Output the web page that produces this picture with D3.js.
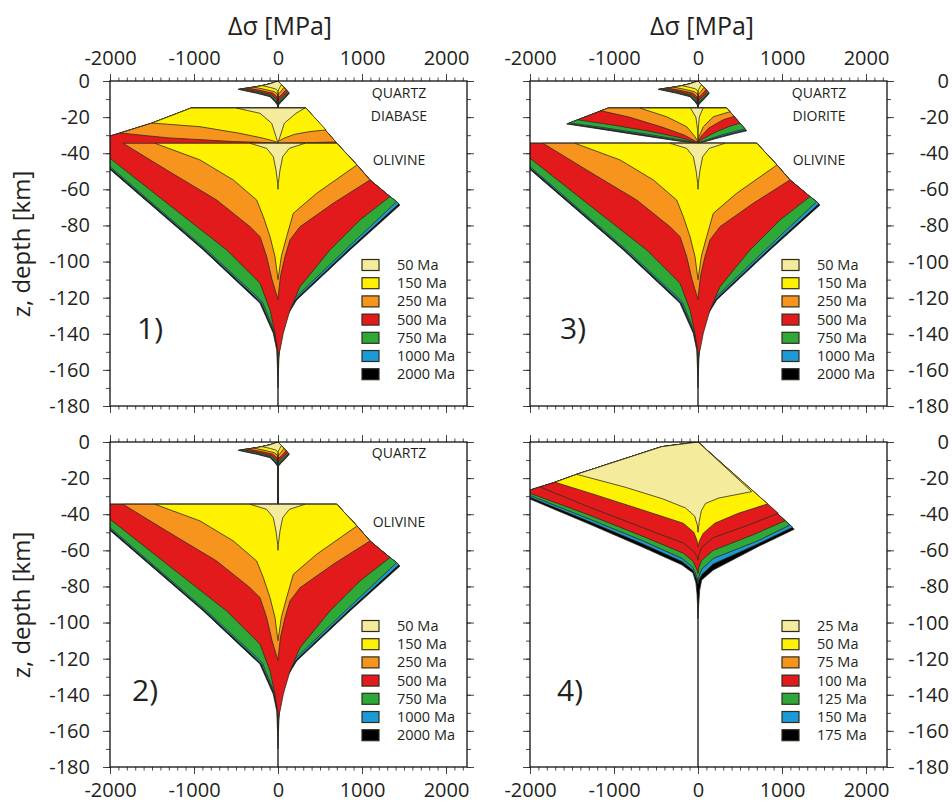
<!DOCTYPE html>
<html><head><meta charset="utf-8">
<script src="https://cdn.jsdelivr.net/npm/d3@7"></script>
<style>
body{margin:0;background:#fff}
text{font-family:"Open Sans",sans-serif;fill:#231f20}
</style>
</head><body>
<svg id="c" width="952" height="802"></svg>
<script>
// ---------------- DATA ----------------
const xMajor = [-2000,-1000,0,1000,2000];
const xMinor = d3.range(-2000,2300,100);
const yMajor = [0,-20,-40,-60,-80,-100,-120,-140,-160,-180];
const yMinor = d3.range(0,-190,-10);
const continentalAges = ["50 Ma","150 Ma","250 Ma","500 Ma","750 Ma","1000 Ma","2000 Ma"];
const oceanicAges = ["25 Ma","50 Ma","75 Ma","100 Ma","125 Ma","150 Ma","175 Ma"];
const ageColors = ["#f4ec9c","#fff200","#f7941d","#e31a1c","#2ea837","#1c9ad6","#000000"];
const oceanicFill = ["#f4ec9c","#fff200","#e31a1c","#e31a1c","#2ea837","#1c9ad6","#000000"];
const materialLabelsP1 = ["QUARTZ","DIABASE","OLIVINE"];
const materialLabelsP2 = ["QUARTZ","OLIVINE"];
const materialLabelsP3 = ["QUARTZ","DIORITE","OLIVINE"];
const materialDepths3 = [-6.5,-19.5,-44];
const materialDepths2 = [-6,-44.5];

// envelopes: [delta sigma MPa, depth km], index by age (young -> old)
const quartzComp = [
 [[0,0],[-100,-1.6],[-190,-2.55],[-90,-3.6],[-30,-4.4],[-8,-5.2],[0,-6]],
 [[0,0],[-100,-1.6],[-214,-2.8],[-290,-3.35],[-140,-4.8],[-45,-5.9],[-12,-7],[0,-8]],
 [[0,0],[-100,-1.6],[-214,-2.8],[-360,-3.85],[-180,-5.5],[-60,-6.8],[-20,-8.4],[0,-9.8]],
 [[0,0],[-100,-1.6],[-214,-2.8],[-350,-3.8],[-420,-4.2],[-215,-6.1],[-75,-7.7],[-25,-9.8],[0,-11.5]],
 [[0,0],[-100,-1.6],[-214,-2.8],[-350,-3.8],[-450,-4.4],[-235,-6.4],[-85,-8.1],[-30,-10.5],[0,-12.6]],
 [[0,0],[-100,-1.6],[-214,-2.8],[-350,-3.8],[-465,-4.5],[-245,-6.6],[-90,-8.4],[-33,-11],[0,-13.2]],
 [[0,0],[-100,-1.6],[-214,-2.8],[-350,-3.8],[-476,-4.6],[-254,-6.8],[-95,-8.7],[-36,-11.5],[0,-13.8]]
];
const quartzTens = [
 [[0,0],[40,-2.0],[20,-3.7],[5,-5],[0,-6]],
 [[0,0],[44,-2.2],[70,-3.5],[38,-5.6],[10,-7.1],[0,-8]],
 [[0,0],[44,-2.2],[95,-4.8],[52,-7.2],[13,-8.8],[0,-9.8]],
 [[0,0],[44,-2.2],[115,-5.8],[65,-8.4],[17,-10.4],[0,-11.5]],
 [[0,0],[44,-2.2],[125,-6.3],[73,-9],[20,-11.3],[0,-12.6]],
 [[0,0],[44,-2.2],[130,-6.55],[78,-9.3],[22,-11.8],[0,-13.2]],
 [[0,0],[44,-2.2],[135,-6.8],[83,-9.6],[24,-12.3],[0,-13.8]]
];
const diabaseComp = [
 [[-492,-15],[-214,-17.9],[-75,-23.4],[-24,-30.8],[-4,-33.6],[0,-34.5]],
 [[-1036,-15],[-1500,-23.3],[-929,-25.3],[-452,-29],[-175,-31.7],[-56,-33.2],[0,-34]],
 [[-1036,-15],[-1500,-23.3],[-1880,-28.8],[-1300,-31.5],[-540,-33.5],[0,-34.3]],
 [[-1036,-15],[-1500,-23.3],[-1880,-28.8],[-2000,-30.5],[-2270,-34.5]],
 [[-1036,-15],[-1500,-23.3],[-1880,-28.8],[-2000,-30.5],[-2270,-34.5]],
 [[-1036,-15],[-1500,-23.3],[-1880,-28.8],[-2000,-30.5],[-2270,-34.5]],
 [[-1036,-15],[-1500,-23.3],[-1880,-28.8],[-2000,-30.5],[-2270,-34.5]]
];
const diabaseTens = [
 [[320,-15],[214,-17.9],[75,-23.4],[24,-30.8],[4,-33.6],[0,-34.5]],
 [[333,-15],[572,-27.1],[380,-28],[200,-29.5],[80,-31.5],[0,-33.5]],
 [[333,-15],[690,-33.8],[300,-34.2],[0,-34.4]],
 [[333,-15],[700,-34.5]],
 [[333,-15],[700,-34.5]],
 [[333,-15],[700,-34.5]],
 [[333,-15],[700,-34.5]]
];
const dioriteComp = [
 [[-90,-15],[-25,-20],[-5,-27],[0,-32]],
 [[-690,-15],[-373,-19.8],[-135,-25.3],[-36,-30.8],[0,-33.6]],
 [[-1070,-15],[-1154,-16.5],[-820,-20],[-430,-25.5],[-160,-30],[-30,-33.3],[0,-34]],
 [[-1070,-15],[-1430,-21.5],[-1000,-24.5],[-560,-28],[-200,-31.5],[-40,-33.8],[0,-34.3]],
 [[-1070,-15],[-1530,-23.2],[-1100,-26],[-600,-29.5],[-220,-32.5],[0,-34.4]],
 [[-1070,-15],[-1550,-23.6],[-1120,-26.4],[-620,-30],[-230,-33],[0,-34.5]],
 [[-1070,-15],[-1563,-23.8],[-1140,-26.8],[-640,-30.4],[-240,-33.2],[0,-34.5]]
];
const dioriteTens = [
 [[60,-15],[15,-20],[3,-27],[0,-32]],
 [[341,-15],[381,-17],[182,-19.8],[63,-25.3],[10,-31],[0,-33.6]],
 [[341,-15],[430,-19.6],[300,-21.5],[130,-26],[30,-31],[0,-34]],
 [[341,-15],[500,-23.4],[380,-25],[200,-28.5],[60,-32],[0,-34.3]],
 [[341,-15],[560,-26.5],[430,-28],[240,-30.5],[80,-33],[0,-34.4]],
 [[341,-15],[572,-27.2],[440,-28.6],[250,-31],[85,-33.3],[0,-34.5]],
 [[341,-15],[580,-27.6],[450,-29],[260,-31.3],[90,-33.5],[0,-34.5]]
];
const olivineComp = [
 [[-333,-34.5],[-135,-37.3],[-56,-41.9],[-24,-49.3],[-4,-56.6],[0,-60]],
 [[-1464,-34.5],[-929,-43.7],[-532,-54.8],[-254,-65.9],[-175,-75.1],[-95,-86.2],[-36,-97.2],[0,-110]],
 [[-1845,-34.5],[-1325,-49.3],[-730,-65.9],[-333,-80.7],[-214,-86.2],[-135,-97.2],[-71,-110],[0,-121]],
 [[-2270,-34.5],[-2000,-42.8],[-1310,-68.1],[-611,-93.6],[-214,-112],[-95,-126.8],[-36,-139.7],[-4,-149],[0,-152]],
 [[-2400,-34.5],[-2000,-47.4],[-849,-93.6],[-225,-120.5],[-185,-122.5],[-45,-138.5],[-3,-147],[0,-155]],
 [[-2400,-34.5],[-2000,-48.2],[-870,-93.6],[-240,-121],[-200,-123],[-50,-139],[-3,-148],[0,-157]],
 [[-2400,-34.5],[-2000,-49],[-889,-93.6],[-254,-121.3],[-214,-123.1],[-56,-139.7],[-15,-149],[-8,-157],[-3,-164],[0,-170]]
];
const olivineTens = [
 [[321,-34.5],[135,-37.3],[56,-41.9],[24,-49.3],[4,-56.6],[0,-60]],
 [[700,-34.5],[940,-46.5],[460,-62.2],[182,-73.3],[103,-86.2],[40,-97],[0,-110]],
 [[700,-34.5],[940,-46.5],[1095,-54.8],[658,-67.7],[262,-80.7],[143,-88],[83,-97.3],[30,-108],[0,-120]],
 [[700,-34.5],[940,-46.5],[1095,-54.8],[1333,-64],[976,-77],[619,-93.6],[262,-113.9],[143,-126.8],[63,-139.7],[24,-149],[0,-152]],
 [[700,-34.5],[940,-46.5],[1095,-54.8],[1333,-64],[1413,-66.8],[800,-93.6],[195,-120.5],[90,-129.5],[20,-143],[0,-155]],
 [[700,-34.5],[940,-46.5],[1095,-54.8],[1333,-64],[1413,-66.8],[1440,-68],[835,-93.6],[210,-121],[97,-130],[22,-144],[0,-157]],
 [[700,-34.5],[940,-46.5],[1095,-54.8],[1333,-64],[1413,-66.8],[1452,-68.7],[857,-93.6],[222,-121.3],[103,-130.5],[24,-145],[10,-155],[4,-163],[0,-170]]
];
const oceanComp = [
 [[0,0],[-432,-2.6],[-1444,-17.9],[-870,-25],[-420,-31.5],[-150,-36.5],[-40,-41],[-8,-46],[0,-50]],
 [[0,0],[-432,-2.6],[-1444,-17.9],[-1702,-22.3],[-1266,-28.6],[-670,-37.5],[-175,-45],[-50,-50],[-12,-54.5],[0,-58]],
 [[0,0],[-432,-2.6],[-1444,-17.9],[-1702,-22.3],[-1881,-24.9],[-1266,-36.6],[-670,-47.2],[-175,-56],[-50,-60.5],[-12,-63.5],[0,-65.5]],
 [[0,0],[-432,-2.6],[-1444,-17.9],[-1702,-22.3],[-2000,-26.6],[-2100,-28],[-2000,-28.4],[-1266,-41],[-670,-52],[-175,-61.6],[-60,-66],[-15,-70.5],[0,-73]],
 [[0,0],[-432,-2.6],[-1444,-17.9],[-1702,-22.3],[-2000,-26.6],[-2150,-28.7],[-2000,-29.6],[-1266,-43.2],[-670,-54.5],[-190,-64.5],[-60,-69.5],[-15,-74.5],[0,-77]],
 [[0,0],[-432,-2.6],[-1444,-17.9],[-1702,-22.3],[-2000,-26.6],[-2200,-29.4],[-2000,-30.6],[-1266,-44.6],[-670,-56.2],[-190,-66.2],[-60,-71],[-15,-76],[0,-78.5]],
 [[0,0],[-432,-2.6],[-1444,-17.9],[-1702,-22.3],[-2000,-26.6],[-2300,-30.5],[-2000,-31.6],[-1266,-46],[-670,-58],[-194,-68],[-60,-72.5],[-25,-78],[-12,-84],[-5,-91],[0,-98]]
];
const oceanTens = [
 [[0,0],[639,-27.5],[250,-31],[90,-34],[40,-38],[15,-44],[0,-50]],
 [[0,0],[829,-34.3],[480,-39.5],[200,-45],[63,-50.5],[15,-55],[0,-58]],
 [[0,0],[956,-39.5],[600,-46],[182,-53],[50,-58],[12,-62],[0,-65.5]],
 [[0,0],[1036,-43.6],[650,-51.5],[182,-60],[44,-65.5],[10,-69.5],[0,-73]],
 [[0,0],[1095,-46],[700,-55],[182,-64.5],[44,-70.5],[10,-74.5],[0,-77]],
 [[0,0],[1127,-47.2],[720,-56.3],[182,-67.5],[44,-73.5],[10,-76.5],[0,-78.5]],
 [[0,0],[1146,-48.3],[735,-57.5],[182,-70.9],[44,-76.4],[20,-82],[8,-90],[0,-98]]
];
const layerTops = {quartz:0, diabase:-15, diorite:-15, olivine:-34.5, ocean:0};

// ---------------- DRAW ----------------
const layers = {
  quartz:{top:layerTops.quartz, comp:quartzComp, tens:quartzTens},
  diabase:{top:layerTops.diabase, comp:diabaseComp, tens:diabaseTens},
  diorite:{top:layerTops.diorite, comp:dioriteComp, tens:dioriteTens},
  olivine:{top:layerTops.olivine, comp:olivineComp, tens:olivineTens},
  ocean:{top:layerTops.ocean, comp:oceanComp, tens:oceanTens}
};
const W = 357, H = 325;
const panels = [
  {num:"1)", x0:110, y0:81, stack:["quartz","diabase","olivine"], ages:continentalAges, fills:ageColors,
   labels:materialLabelsP1, labelDepths:materialDepths3, topLabels:true, side:"left", numPos:[137,339]},
  {num:"2)", x0:110, y0:442, stack:["quartz","olivine"], ages:continentalAges, fills:ageColors,
   labels:materialLabelsP2, labelDepths:materialDepths2, topLabels:false, side:"left", numPos:[132,701]},
  {num:"3)", x0:530, y0:81, stack:["quartz","diorite","olivine"], ages:continentalAges, fills:ageColors,
   labels:materialLabelsP3, labelDepths:materialDepths3, topLabels:true, side:"right", numPos:[560,339]},
  {num:"4)", x0:530, y0:442, stack:["ocean"], ages:oceanicAges, fills:oceanicFill,
   labels:[], labelDepths:[], topLabels:false, side:"right", numPos:[557,701]}
];

const svg = d3.select("#c");
svg.append("rect").attr("width",952).attr("height",802).attr("fill","#fff");
const defs = svg.append("defs");

function envelope(stack, i){
  const comp = [], tens = [];
  stack.forEach((name,k)=>{
    const L = layers[name];
    if(k>0){
      if(Math.abs(comp[comp.length-1][0])<1) comp.push([0,L.top]);
      if(Math.abs(tens[tens.length-1][0])<1) tens.push([0,L.top]);
    }
    comp.push(...L.comp[i]);
    tens.push(...L.tens[i]);
  });
  return comp.concat(tens.slice().reverse());
}

panels.forEach((p,pi)=>{
  const x = d3.scaleLinear().domain([-2000,2250]).range([p.x0, p.x0+W]);
  const y = d3.scaleLinear().domain([0,-180]).range([p.y0, p.y0+H]);
  const g = svg.append("g");
  defs.append("clipPath").attr("id","clip"+pi).append("rect")
    .attr("x",p.x0).attr("y",p.y0).attr("width",W).attr("height",H);
  const plot = g.append("g").attr("clip-path",`url(#clip${pi})`);
  // zero line
  plot.append("line").attr("x1",x(0)).attr("x2",x(0)).attr("y1",y(0)).attr("y2",y(-180))
    .attr("stroke","#111").attr("stroke-width",1.3);
  const line = d3.line().x(d=>x(d[0])).y(d=>y(d[1]));
  for(let i=6;i>=0;i--){
    plot.append("path").attr("d", line(envelope(p.stack,i))+"Z")
      .attr("fill",p.fills[i]).attr("stroke","#2f2c1e").attr("stroke-width",0.8)
      .attr("stroke-linejoin","round");
  }
  // axes ticks
  const fmt = d=>String(d);
  function ax(axisFn, vals, size, transform, labels, pad){
    const a = axisFn.tickValues(vals).tickSize(size).tickPadding(pad||4)
      .tickFormat(labels?fmt:"");
    const gg = g.append("g").attr("transform",transform).call(a);
    gg.select(".domain").remove();
    gg.selectAll("line").attr("stroke","#333").attr("stroke-width",0.9);
    gg.selectAll("text").style("font-family","'Open Sans',sans-serif").style("font-size","20px").attr("fill","#231f20");
    return gg;
  }
  ax(d3.axisTop(x), xMinor, 3.5, `translate(0,${p.y0})`, false);
  ax(d3.axisTop(x), xMajor, 7, `translate(0,${p.y0})`, p.topLabels, 9);
  ax(d3.axisBottom(x), xMinor, 3.5, `translate(0,${p.y0+H})`, false);
  ax(d3.axisBottom(x), xMajor, 7, `translate(0,${p.y0+H})`, !p.topLabels, 9);
  ax(d3.axisLeft(y), yMinor, 4, `translate(${p.x0},0)`, false);
  ax(d3.axisLeft(y), yMajor, 7, `translate(${p.x0},0)`, p.side==="left", 13);
  ax(d3.axisRight(y), yMinor, 4, `translate(${p.x0+W},0)`, false);
  ax(d3.axisRight(y), yMajor, 7, `translate(${p.x0+W},0)`, false);
  if(p.side==="right"){
    g.selectAll(null).data(yMajor).enter().append("text")
      .attr("x",949).attr("y",d=>y(d)).attr("dy","0.35em").attr("text-anchor","end")
      .style("font-size","20px").text(fmt);
  }
  // frame
  g.append("rect").attr("x",p.x0).attr("y",p.y0).attr("width",W).attr("height",H)
    .attr("fill","none").attr("stroke","#111").attr("stroke-width",1.3);
  // material labels
  p.labels.forEach((t,k)=>{
    g.append("text").attr("x",p.x0+289).attr("y",y(p.labelDepths[k])).attr("dy","0.35em")
      .attr("text-anchor","middle").style("font-size","14px").text(t);
  });
  // panel number
  g.append("text").attr("x",p.numPos[0]).attr("y",p.numPos[1]).style("font-size","30px").text(p.num);
  // legend
  const ly0 = p.y0+184;
  p.ages.forEach((a,k)=>{
    const yy = ly0 + k*18.2;
    g.append("rect").attr("x",p.x0+252).attr("y",yy-5.5).attr("width",17).attr("height",11)
      .attr("fill",ageColors[k]).attr("stroke","#2f2c1e").attr("stroke-width",1.2);
    g.append("text").attr("x",p.x0+287).attr("y",yy).attr("dy","0.35em")
      .style("font-size","14.5px").text(a);
  });
});

// axis titles
[[280,"Δσ [MPa]"],[702,"Δσ [MPa]"]].forEach(d=>{
  svg.append("text").attr("x",d[0]).attr("y",35).attr("text-anchor","middle")
    .style("font-size","25px").text(d[1]);
});
[244,605].forEach(cy=>{
  svg.append("text").attr("transform",`translate(30,${cy}) rotate(-90)`).attr("text-anchor","middle")
    .style("font-size","24px").text("z, depth [km]");
});
</script>
</body></html>
